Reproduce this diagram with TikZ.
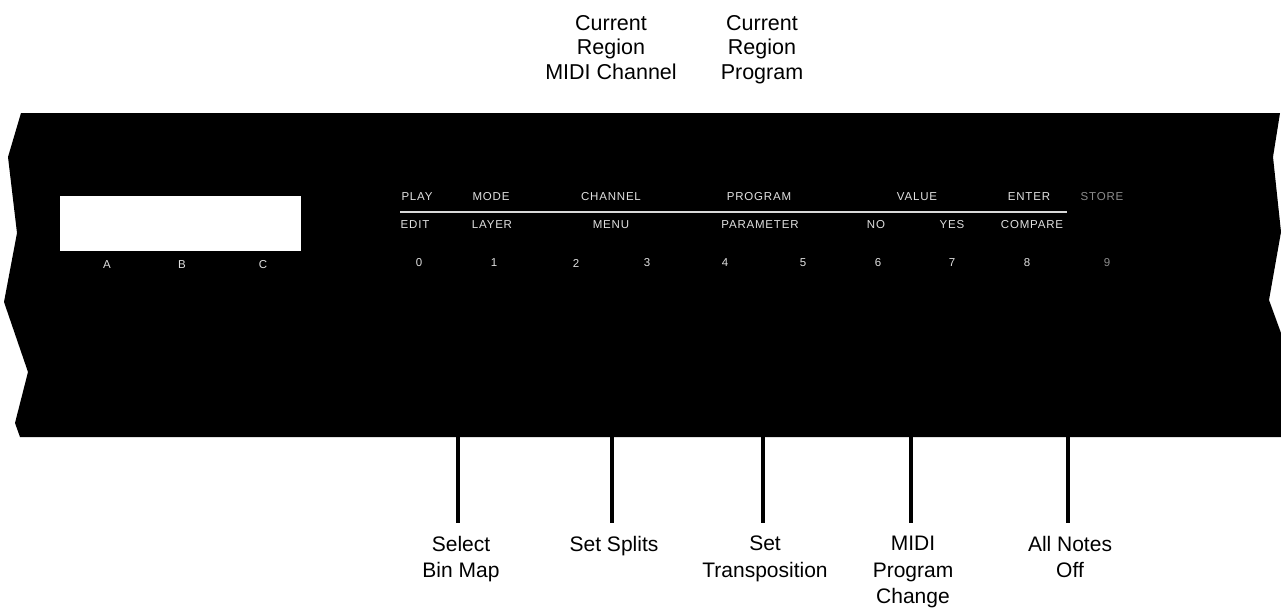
\documentclass[tikz,border=0pt]{standalone}
\usepackage{fontspec}
\setmainfont{Liberation Sans}
\newfontfamily\panelfont{Liberation Sans}[LetterSpace=7]
\begin{document}
\begin{tikzpicture}[x=1pt,y=-1pt,
  panel/.style={font=\panelfont\fontsize{11.5}{13}\selectfont, text=white!88!black, inner sep=0pt, anchor=center},
  dim/.style={panel, text=white!55!black},
  callout/.style={font=\fontsize{21}{26.5}\selectfont, align=center, inner sep=0pt, anchor=north},
  toplabel/.style={font=\fontsize{21.5}{24.5}\selectfont, align=center, inner sep=0pt, anchor=north},
  leader/.style={line width=4pt}]
\useasboundingbox (0,0) rectangle (1281,613);
% panel
\fill[black] (21,113) -- (1280,113) -- (1273,157) -- (1281,232) -- (1269,300) -- (1281,333)
  -- (1281,437) -- (20,437) -- (15,423) -- (28,372) -- (4,302) -- (17,233) -- (8,157) -- cycle;
% display
\node[fill=white, minimum width=241pt, minimum height=55pt, inner sep=0pt, anchor=north west] (disp) at (60,196) {};
\node[panel] (lA) at (107,265) {A};
\node[panel] (lB) at (182,265) {B};
\node[panel] (lC) at (263,265) {C};
% button labels, top row
\node[panel] (play) at (417,197) {PLAY};
\node[panel] (mode) at (491,197) {MODE};
\node[panel] (chan) at (611,197) {CHANNEL};
\node[panel] (prog) at (759,197) {PROGRAM};
\node[panel] (val) at (917,197) {VALUE};
\node[panel] (ent) at (1029,197) {ENTER};
\node[dim] (sto) at (1102,197) {STORE};
\coordinate (rl) at (400,212);
\coordinate (rr) at (1067,212);
\draw[white!85!black, line width=1.2pt] (rl) -- (rr);
% second row
\node[panel] (edit) at (415,225) {EDIT};
\node[panel] (layer) at (492,225) {LAYER};
\node[panel] (menu) at (611,225) {MENU};
\node[panel] (param) at (760,225) {PARAMETER};
\node[panel] (no) at (876,225) {NO};
\node[panel] (yes) at (952,225) {YES};
\node[panel] (comp) at (1032,225) {COMPARE};
% digits
\node[panel] (d0) at (419,263) {0};
\node[panel] (d1) at (494,263) {1};
\node[panel] (d2) at (576,263) {2};
\node[panel] (d3) at (647,263) {3};
\node[panel] (d4) at (725,263) {4};
\node[panel] (d5) at (803,263) {5};
\node[panel] (d6) at (878,263) {6};
\node[panel] (d7) at (952,263) {7};
\node[panel] (d8) at (1027,263) {8};
\node[dim] (d9) at (1107,263) {9};
% top labels
\node[toplabel] (tch) at (611,15) {Current\\Region\\MIDI Channel};
\node[toplabel] (tpr) at (762,15) {Current\\Region\\Program};
% leaders
\foreach \n/\x in {1/458,2/612,3/763,4/911,5/1068}{
  \coordinate (s\n) at (\x,436);
  \coordinate (e\n) at (\x,523);
  \draw[leader] (s\n) -- (e\n);
}
% bottom labels
\node[callout] (c1) at (461,536) {Select\\Bin Map};
\node[callout] (c2) at (614,536) {Set Splits};
\node[callout] (c3) at (765,536) {Set\\Transposition};
\node[callout] (c4) at (913,536) {MIDI\\Program\\Change};
\node[callout] (c5) at (1070,536) {All Notes\\Off};
\end{tikzpicture}
\end{document}
